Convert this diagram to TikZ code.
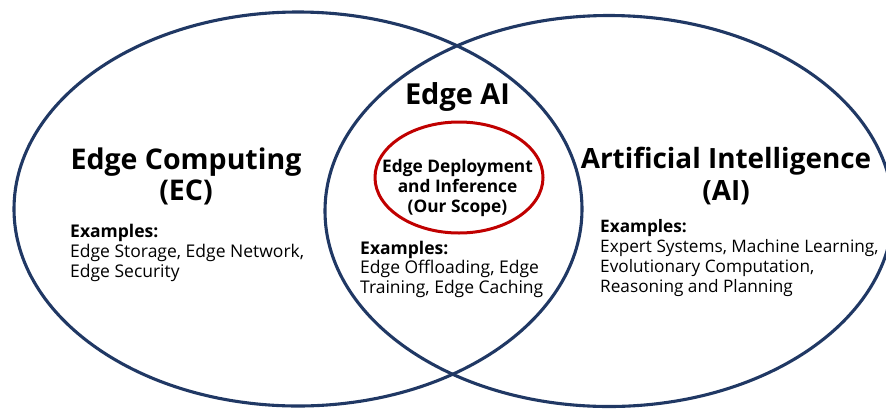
\documentclass[tikz,border=0pt]{standalone}
\usepackage{fontspec}
\usetikzlibrary{shapes.geometric}
\setmainfont{Open Sans}
\definecolor{navy}{HTML}{203864}
\definecolor{scopered}{HTML}{C00000}
\tikzset{
  venn/.style={draw=navy, line width=3.1pt},
  scope/.style={draw=scopered, line width=3pt},
  title/.style={font=\fontsize{28.5}{31}\selectfont\bfseries, align=center, inner sep=0pt, anchor=base},
  aititlestyle/.style={font=\fontsize{27.9}{32}\selectfont\bfseries, align=center, inner sep=0pt, anchor=base},
  midtitle/.style={font=\fontsize{28.9}{31}\selectfont\bfseries, align=center, inner sep=0pt, anchor=base},
  scopetext/.style={font=\fontsize{17.3}{20}\selectfont\bfseries, align=center, inner sep=0pt, anchor=base},
  examples/.style={font=\fontsize{17.5}{20}\selectfont, align=left, inner sep=0pt, anchor=base west},
}
\begin{document}
\begin{tikzpicture}[x=1pt,y=-1pt]
\useasboundingbox (0,0) rectangle (886,408);
\clip (0,0) rectangle (886,408);
\node[venn, ellipse, minimum width=568pt, minimum height=394pt, inner sep=0pt] (ec) at (298,209) {};
\node[venn, ellipse, minimum width=568pt, minimum height=391pt, inner sep=0pt] (ai) at (609,211) {};
\node[scope, ellipse, minimum width=168pt, minimum height=111pt, inner sep=0pt] (scopeell) at (459,177.5) {};
\node[title] (ectitle) at (186,200) {Edge Computing\\(EC)};
\node[aititlestyle] (aititle) at (726,200) {Artificial Intelligence\\(AI)};
\node[midtitle] (eaititle) at (457.5,104) {Edge AI};
\node[scopetext] (scopetitle) at (457.5,212) {Edge Deployment\\and Inference\\(Our Scope)};
\node[examples] (ecex) at (70,277) {\textbf{Examples:}\\Edge Storage, Edge Network,\\Edge Security};
\node[examples, font=\fontsize{17.5}{19.5}\selectfont] (eaiex) at (360,293) {\textbf{Examples:}\\Edge Offloading, Edge\\Training, Edge Caching};
\node[examples, font=\fontsize{17.2}{20}\selectfont] (aiex) at (600,292) {\textbf{Examples:}\\Expert Systems, Machine Learning,\\Evolutionary Computation,\\Reasoning and Planning};
\end{tikzpicture}
\end{document}
